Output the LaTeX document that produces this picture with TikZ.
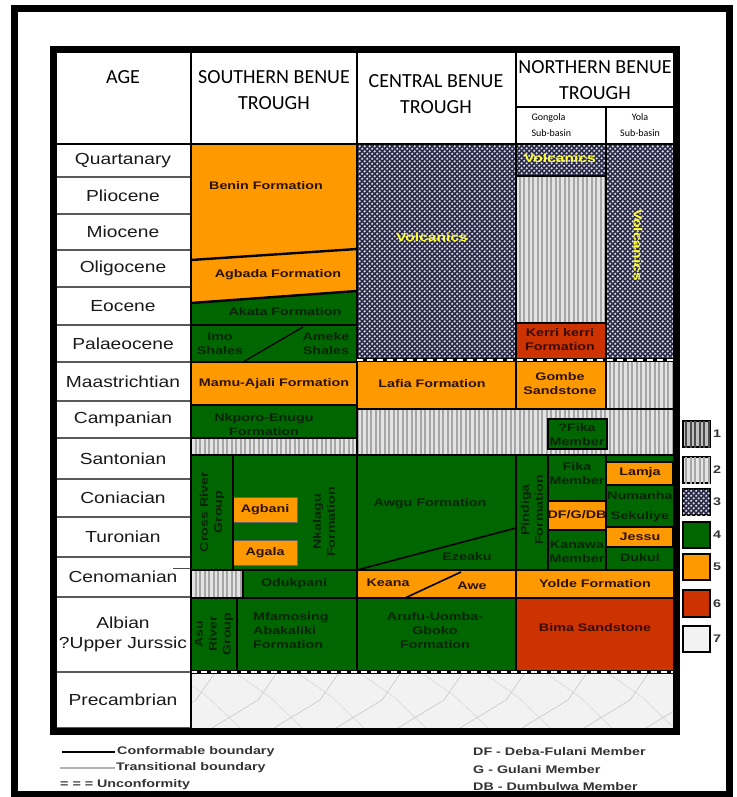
\documentclass[tikz,border=0pt]{standalone}
\usepackage{fontspec}
\setmainfont{Liberation Sans}
\newfontfamily\fmfont[FakeStretch=1.3]{Liberation Sans}
\newfontfamily\agefont[FakeStretch=1.2]{Liberation Sans}
\newfontfamily\hdfont{Carlito}
\usepackage{tikz}
\usetikzlibrary{patterns}

\definecolor{fmorange}{HTML}{FF9900}
\definecolor{fmgreen}{HTML}{006600}
\definecolor{fmred}{HTML}{CC3300}
\definecolor{volcbg}{HTML}{2A2A42}
\definecolor{volcdot}{HTML}{D8D8F0}
\definecolor{volcyel}{HTML}{FFFF33}
\definecolor{otxt}{HTML}{2B1300}
\definecolor{gtxt}{HTML}{0A240A}
\definecolor{rtxt}{HTML}{3B0B00}

\pgfdeclarepatternformonly{vstripes}{\pgfqpoint{0pt}{-1pt}}{\pgfqpoint{4.5pt}{5pt}}{\pgfqpoint{4.5pt}{4pt}}{%
  \pgfsetlinewidth{1.8pt}%
  \pgfpathmoveto{\pgfqpoint{2.25pt}{-1pt}}%
  \pgfpathlineto{\pgfqpoint{2.25pt}{5pt}}%
  \pgfusepath{stroke}}
\pgfdeclarepatternformonly{volcdots}{\pgfqpoint{0pt}{0pt}}{\pgfqpoint{5.4pt}{5.4pt}}{\pgfqpoint{5.4pt}{5.4pt}}{%
  \pgfpathcircle{\pgfqpoint{1.35pt}{1.35pt}}{1.35pt}%
  \pgfpathcircle{\pgfqpoint{4.05pt}{4.05pt}}{1.35pt}%
  \pgfusepath{fill}}

\tikzstyle{bnd} = [draw=black, line width=2.4pt]
\tikzstyle{agerule} = [draw=black!65, line width=2pt]
\tikzstyle{unconf} = [draw=black, line width=4.5pt,
    postaction={draw=white, line width=1.8pt, dash pattern=on 6pt off 4pt}]
\tikzstyle{stripefill} = [fill=gray!22, postaction={pattern=vstripes, pattern color=gray!70}]
\tikzstyle{darkstripe} = [fill=gray!50, postaction={pattern=vstripes, pattern color=black!70}]
\tikzstyle{volcfill} = [fill=volcbg, postaction={pattern=volcdots, pattern color=volcdot}]
\tikzstyle{hdr} = [font=\hdfont\fontsize{20}{26}\selectfont, align=center]
\tikzstyle{subhd} = [font=\hdfont\fontsize{10}{16}\selectfont]
\tikzstyle{agelbl} = [font=\agefont\fontsize{16}{20}\selectfont, text=black!90, align=center]
\tikzstyle{fm} = [font=\fmfont\bfseries\fontsize{11}{14}\selectfont, align=center, inner sep=0pt, text=otxt]
\tikzstyle{gfm} = [fm, text=gtxt]
\tikzstyle{rfm} = [fm, text=rtxt]
\tikzstyle{vlc} = [fm, text=volcyel, font=\fmfont\bfseries\fontsize{12}{14}\selectfont]
\tikzstyle{leg} = [fm, text=black!80, anchor=west]

\begin{document}
\begin{tikzpicture}[x=1pt, y=-1pt]
    \useasboundingbox (0,0) rectangle (736,797);
    % Outer frame
    \draw[line width=7pt] (14,9) rectangle (729,794);

    % Southern Benue Trough
    \fill[fmorange] (191,144) -- (357,144) -- (357,291) -- (191,303) -- cycle;
    \fill[fmgreen] (191,303) -- (357,291) -- (357,362) -- (191,362) -- cycle;
    \fill[fmorange] (191,362) rectangle (357,405);
    \fill[fmgreen] (191,405) rectangle (357,438);
    \path[stripefill] (191,438) rectangle (357,455);
    \fill[fmgreen] (191,455) rectangle (357,570);
    \path[stripefill] (191,570) rectangle (243,598);
    \fill[fmgreen] (243,570) rectangle (357,598);
    \fill[fmgreen] (191,598) rectangle (357,672);
    \filldraw[fill=fmorange, draw=black!60, line width=0.8pt] (233,497) rectangle (297,522);
    \filldraw[fill=fmorange, draw=black!60, line width=0.8pt] (233,540) rectangle (297,565);

    % Central Benue Trough
    \path[volcfill] (357,144) rectangle (516,360);
    \fill[fmorange] (357,360) rectangle (516,409);
    \path[stripefill] (357,409) rectangle (673,455);
    \fill[fmgreen] (357,455) rectangle (516,570);
    \fill[fmorange] (357,570) rectangle (516,598);
    \fill[fmgreen] (357,598) rectangle (516,672);

    % Northern Benue Trough
    \path[volcfill] (516,144) rectangle (606,176);
    \path[stripefill] (516,176) rectangle (606,323);
    \fill[fmred] (516,323) rectangle (606,360);
    \path[volcfill] (606,144) rectangle (673,360);
    \fill[fmorange] (516,360) rectangle (606,409);
    \path[stripefill] (606,360) rectangle (673,409);
    \filldraw[fill=fmgreen, bnd] (548,419) rectangle (607,449);
    \fill[fmgreen] (516,455) rectangle (673,570);
    \filldraw[fill=fmorange, bnd] (548,501) rectangle (606,530);
    \filldraw[fill=fmorange, bnd] (606,462) rectangle (673,485);
    \filldraw[fill=fmorange, bnd] (606,527) rectangle (673,547);
    \fill[fmorange] (516,570) rectangle (673,598);
    \fill[fmred] (516,598) rectangle (673,672);

    % Precambrian basement
    \fill[gray!10] (191,672) rectangle (673,728);
    \begin{scope}
        \clip (191,674) rectangle (673,728);
        \foreach \k in {0,...,8} {
            \draw[gray!40, line width=0.7pt] ({150+\k*62},728) -- ({196+\k*62},700) -- ({214+\k*62},674);
            \draw[gray!30, line width=0.6pt] ({175+\k*62},674) -- ({208+\k*62},697) -- ({240+\k*62},728);
        }
    \end{scope}

    % Boundaries
    \draw[bnd] (191,260) -- (357,249);
    \draw[bnd] (191,303) -- (357,291);
    \draw[bnd] (191,325) -- (357,325);
    \draw[black, line width=1.3pt] (243,362) -- (303,327);
    \draw[bnd] (191,362) -- (357,362);
    \draw[bnd] (191,405) -- (357,405);
    \draw[bnd] (191,438) -- (357,438);
    \draw[bnd] (357,409) -- (673,409);
    \draw[bnd] (191,455) -- (673,455);
    \draw[bnd] (191,570) -- (673,570);
    \draw[bnd] (191,598) -- (673,598);
    \draw[bnd] (516,176) -- (606,176);
    \draw[bnd] (516,323) -- (606,323);
    \draw[black, line width=1.6pt] (357,570) -- (516,528);
    \draw[black, line width=1.6pt] (405,598) -- (461,572);
    \draw[bnd] (233,455) -- (233,570);
    \draw[bnd] (243,570) -- (243,598);
    \draw[bnd] (237,598) -- (237,672);
    \draw[bnd] (548,455) -- (548,570);
    \draw[bnd] (357,53) -- (357,672);
    \draw[bnd] (516,53) -- (516,409);
    \draw[bnd] (516,455) -- (516,672);
    \draw[bnd] (606,107) -- (606,409);
    \draw[bnd] (606,455) -- (606,570);
    \draw[bnd] (516,107) -- (673,107);
    \draw[unconf] (357,360) -- (673,360);
    \draw[unconf] (191,672) -- (673,672);

    % Age column
    \foreach \ya/\yb/\lbl [count=\i] in {144/177/Quartanary, 177/214/Pliocene,
        214/250/Miocene, 250/287/Oligocene, 287/325/Eocene, 325/362/Palaeocene,
        362/401/Maastrichtian, 401/438/Campanian, 438/479/Santonian,
        479/517/Coniacian, 517/557/Turonian, 557/597/Cenomanian,
        597/672/{Albian\\?Upper Jurssic}, 672/728/Precambrian} {
        \node[agelbl] (age\i) at (123,{(\ya+\yb)/2}) {\lbl};
        \draw[agerule] (56,\yb) -- (191,\yb);
    }
    \draw[black!70, line width=1pt] (173,568) -- (191,568);
    \draw[bnd] (56,144) -- (673,144);
    \draw[bnd] (191,53) -- (191,728);
    \draw[line width=7pt] (53,50) rectangle (676,731);

    % Headers
    \node[hdr] (agehd) at (123,77) {AGE};
    \node[hdr] (southhd) at (274,90) {SOUTHERN BENUE\\TROUGH};
    \node[hdr] (centhd) at (436,94) {CENTRAL BENUE\\TROUGH};
    \node[hdr] (northhd) at (595,80) {NORTHERN BENUE\\TROUGH};
    \node[subhd, align=left, anchor=west] (gonghd) at (528,125) {Gongola\\Sub-basin};
    \node[subhd, align=center] (yolahd) at (640,125) {Yola\\Sub-basin};

    % Southern labels
    \node[fm] (benin) at (266,186) {Benin Formation};
    \node[fm] (agbada) at (278,275) {Agbada Formation};
    \node[gfm] (akata) at (285,312) {Akata Formation};
    \node[gfm] (imo) at (220,344) {Imo\\Shales};
    \node[gfm] (ameke) at (326,344) {Ameke\\Shales};
    \node[fm] (mamu) at (274,384) {Mamu-Ajali Formation};
    \node[gfm] (nkporo) at (264,425) {Nkporo-Enugu\\Formation};
    \node[gfm, rotate=90] (crossriver) at (212,512) {Cross River\\Group};
    \node[fm] (agbani) at (265,510) {Agbani};
    \node[fm] (agala) at (265,553) {Agala};
    \node[gfm, rotate=90] (nkalagu) at (324,522) {Nkalagu\\Formation};
    \node[gfm] (odukpani) at (294,584) {Odukpani};
    \node[gfm, rotate=90] (asu) at (214,634) {Asu\\River\\Group};
    \node[gfm, align=left, anchor=west] (mfamosing) at (253,631) {Mfamosing\\Abakaliki\\Formation};

    % Central labels
    \node[vlc] (volcc) at (432,237) {Volcanics};
    \node[fm] (lafia) at (432,384) {Lafia Formation};
    \node[gfm] (awgu) at (430,504) {Awgu Formation};
    \node[gfm] (ezeaku) at (467,557) {Ezeaku};
    \node[fm] (keana) at (388,583) {Keana};
    \node[fm] (awe) at (472,586) {Awe};
    \node[gfm] (arufu) at (435,631) {Arufu-Uomba-\\Gboko\\Formation};

    % Northern labels
    \node[vlc] (volcg) at (560,158) {Volcanics};
    \node[rfm] (kerri) at (560,340) {Kerri kerri\\Formation};
    \node[fm] (gombe) at (560,384) {Gombe\\Sandstone};
    \node[gfm] (qfika) at (577,435) {?Fika\\Member};
    \node[gfm, rotate=90] (pindiga) at (532,510) {Pindiga\\Formation};
    \node[gfm] (fika) at (577,474) {Fika\\Member};
    \node[fm] (dfgdb) at (577,515) {DF/G/DB};
    \node[gfm] (kanawa) at (577,552) {Kanawa\\Member};
    \node[fm] (yolde) at (595,584) {Yolde Formation};
    \node[rfm] (bima) at (595,628) {Bima Sandstone};
    \node[vlc, rotate=-90] (volcy) at (638,245) {Volcanics};
    \node[fm] (lamja) at (640,473) {Lamja};
    \node[gfm] (numanha) at (640,496) {Numanha};
    \node[gfm] (sekuliye) at (640,517) {Sekuliye};
    \node[fm] (jessu) at (640,537) {Jessu};
    \node[gfm] (dukul) at (640,558) {Dukul};

    % Legend of patterns
    \draw[line width=1.8pt, darkstripe] (683,421) rectangle (710,447);
    \draw[line width=1.8pt, stripefill] (683,457) rectangle (710,483);
    \draw[line width=1.8pt, volcfill] (683,489) rectangle (710,515);
    \draw[line width=1.8pt, fill=fmgreen] (683,522) rectangle (710,548);
    \draw[line width=1.8pt, fill=fmorange] (683,554) rectangle (710,580);
    \draw[line width=1.8pt, fill=fmred] (683,590) rectangle (710,617);
    \draw[line width=1.8pt, fill=gray!10] (683,626) rectangle (710,652);
    \foreach \n/\yc in {1/434, 2/470, 3/502, 4/535, 5/567, 6/604, 7/639}
        \node[fm, text=black!80] (key\n) at (717,\yc) {\n};

    % Legend of boundaries and members
    \coordinate (conf1) at (62,752);
    \coordinate (conf2) at (115,752);
    \coordinate (trans1) at (60,768);
    \coordinate (trans2) at (115,768);
    \draw[black, line width=2pt] (conf1) -- (conf2);
    \draw[gray!60, line width=1.6pt] (trans1) -- (trans2);
    \node[leg] (conflbl) at (117,752) {Conformable boundary};
    \node[leg] (translbl) at (116,768) {Transitional boundary};
    \node[leg] (unclbl) at (60,785) {= = = Unconformity};
    \node[leg] (dflbl) at (473,752) {DF - Deba-Fulani Member};
    \node[leg] (glbl) at (473,770) {G - Gulani Member};
    \node[leg] (dblbl) at (473,787) {DB - Dumbulwa Member};
\end{tikzpicture}
\end{document}
